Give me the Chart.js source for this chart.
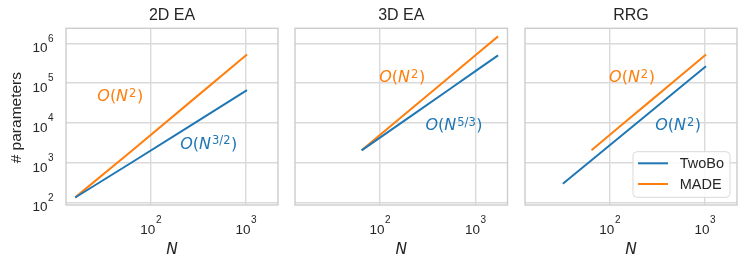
<!DOCTYPE html>
<html>
<head>
<meta charset="utf-8">
<script src="https://cdn.jsdelivr.net/npm/chart.js@4.4.1/dist/chart.umd.min.js"></script>
<style>
  html, body { margin: 0; padding: 0; background: #fff; }
  #wrap { position: relative; width: 747px; height: 267px; }
  #wrap canvas { position: absolute; left: 0; top: 0; }
</style>
</head>
<body>
<div id="wrap">
  <canvas id="p1" width="747" height="267"></canvas>
  <canvas id="p2" width="747" height="267"></canvas>
  <canvas id="p3" width="747" height="267"></canvas>
</div>
<script>
// panels and series
const panelTitles = ['2D EA', '3D EA', 'RRG'];
const seriesNames = ['TwoBo', 'MADE'];
const seriesColors = ['#1f77b4', '#ff7f0e'];

// 2D EA
const n2D = [16, 64, 256, 1024];
const twobo2D = [135, 1050, 8300, 66500];
const made2D = [136, 2080, 32896, 524800];

// 3D EA
const n3D = [64, 216, 512, 1000, 1728];
const twobo3D = [2048, 15552, 65536, 200000, 497664];
const made3D = [2080, 23436, 131328, 500500, 1493856];

// RRG
const nRRGTwoBo = [32, 128, 512, 1024];
const twoboRRG = [300, 4500, 68000, 265000];
const nRRGMade = [64, 128, 256, 512, 1024];
const madeRRG = [2080, 8256, 32896, 131328, 524800];

// axes
const xTicks = [100, 1000];
const yTicks = [100, 1000, 10000, 100000, 1000000];
const xLimits = [12.8, 2170];
const yLimits = [87.5, 2380000];

// scaling labels: [series index, N, params, exponent]
const notes2D = [[1, 27.3, 34700, '2'], [0, 203, 2290, '3/2']];
const notes3D = [[1, 98, 107000, '2'], [0, 299, 6490, '5/3']];
const notesRRG = [[1, 98, 107000, '2'], [0, 299, 6490, '2']];

const pts = (xs, ys) => xs.map((x, i) => ({ x: x, y: ys[i] }));
const SANS = '"Liberation Sans", Arial, sans-serif';

function drawPow(ctx, x, base, v, align) {
  const e = String(Math.round(Math.log10(v)));
  ctx.font = '13.5px ' + SANS;
  const w1 = ctx.measureText('10').width;
  ctx.font = '10px ' + SANS;
  const w2 = ctx.measureText(e).width;
  const total = w1 + w2 + 0.5;
  const left = align === 'center' ? x - total / 2 : x - total;
  ctx.textAlign = 'left';
  ctx.textBaseline = 'alphabetic';
  ctx.font = '13.5px ' + SANS;
  ctx.fillText('10', left, base);
  ctx.font = '10px ' + SANS;
  ctx.fillText(e, left + w1 + 0.5, base - 10.5);
}

function drawMath(ctx, x, y, exp, color) {
  const size = 16;
  const parts = [
    { t: 'O', it: true }, { t: '(' }, { t: 'N', it: true, after: 1 },
    { t: exp, sup: true, after: 0.5 }, { t: ')' }
  ];
  ctx.fillStyle = color;
  ctx.textAlign = 'left';
  ctx.textBaseline = 'alphabetic';
  let cx = x;
  parts.forEach(p => {
    const s = p.sup ? size * 0.72 : size;
    ctx.font = (p.it ? 'oblique ' : '') + s + 'px "DejaVu Sans", sans-serif';
    ctx.fillText(p.t, cx, p.sup ? y - size * 0.27 : y);
    cx += ctx.measureText(p.t).width + (p.after || 0);
  });
}

const decor = {
  id: 'decor',
  afterDraw(chart, args, o) {
    const ctx = chart.ctx, a = chart.chartArea;
    const xs = chart.scales.x, ys = chart.scales.y;
    ctx.save();
    ctx.strokeStyle = '#cccccc';
    ctx.lineWidth = 1.4;
    ctx.strokeRect(a.left, a.top, a.right - a.left, a.bottom - a.top);

    ctx.fillStyle = '#262626';
    xs.ticks.forEach(t => drawPow(ctx, xs.getPixelForValue(t.value), a.bottom + 28.5, t.value, 'center'));
    if (o.yAxis) {
      ys.ticks.forEach(t => drawPow(ctx, a.left - 12.5, ys.getPixelForValue(t.value) + 8.8, t.value, 'right'));
      ctx.save();
      ctx.translate(17, (a.top + a.bottom) / 2 + 1);
      ctx.rotate(-Math.PI / 2);
      ctx.font = '15.5px ' + SANS;
      ctx.textAlign = 'center';
      ctx.textBaseline = 'middle';
      ctx.fillText('# parameters', 0, 0);
      ctx.restore();
    }

    const cx = (a.left + a.right) / 2;
    ctx.textAlign = 'center';
    ctx.textBaseline = 'alphabetic';
    ctx.font = '16px ' + SANS;
    ctx.fillText(o.title, cx, a.top - 8.3);
    ctx.font = 'oblique 15.5px "DejaVu Sans", sans-serif';
    ctx.fillText('N', cx, a.bottom + 49);

    o.notes.forEach(n => {
      drawMath(ctx, xs.getPixelForValue(n[1]), ys.getPixelForValue(n[2]), n[3], seriesColors[n[0]]);
    });

    if (o.legend) {
      const w = 97, h = 45.6;
      const bx = a.right - 7 - w, by = a.bottom - 7.7 - h;
      ctx.beginPath();
      ctx.roundRect(bx, by, w, h, 4);
      ctx.fillStyle = 'rgba(255,255,255,0.85)';
      ctx.fill();
      ctx.strokeStyle = '#d9d9d9';
      ctx.lineWidth = 1;
      ctx.stroke();
      chart.data.datasets.forEach((ds, i) => {
        const ly = by + 11.6 + i * 20.7;
        ctx.strokeStyle = ds.borderColor;
        ctx.lineWidth = 2;
        ctx.beginPath();
        ctx.moveTo(bx + 5, ly);
        ctx.lineTo(bx + 35, ly);
        ctx.stroke();
        ctx.fillStyle = '#262626';
        ctx.font = '14.5px ' + SANS;
        ctx.textAlign = 'left';
        ctx.textBaseline = 'middle';
        ctx.fillText(ds.label, bx + 46.7, ly + 0.5);
      });
    }
    ctx.restore();
  }
};

function logAxis(limits, ticks) {
  return {
    type: 'logarithmic',
    min: limits[0],
    max: limits[1],
    afterBuildTicks: s => { s.ticks = ticks.map(v => ({ value: v })); },
    ticks: { display: false },
    border: { display: false },
    grid: { color: '#dadada', lineWidth: 1.4, drawTicks: false }
  };
}

function makePanel(id, box, title, nTwo, yTwo, nMade, yMade, notes, extra) {
  new Chart(document.getElementById(id).getContext('2d'), {
    type: 'line',
    data: {
      datasets: [
        { label: seriesNames[0], data: pts(nTwo, yTwo), borderColor: seriesColors[0], borderWidth: 2, pointRadius: 0, tension: 0 },
        { label: seriesNames[1], data: pts(nMade, yMade), borderColor: seriesColors[1], borderWidth: 2, pointRadius: 0, tension: 0 }
      ]
    },
    options: {
      responsive: false,
      animation: false,
      devicePixelRatio: 1,
      layout: { padding: { left: box[0], right: 747 - box[1], top: 28.3, bottom: 62 } },
      scales: { x: logAxis(xLimits, xTicks), y: logAxis(yLimits, yTicks) },
      plugins: {
        legend: { display: false },
        tooltip: { enabled: false },
        decor: Object.assign({ title: title, notes: notes }, extra)
      }
    },
    plugins: [decor]
  });
}

makePanel('p1', [66, 278], panelTitles[0], n2D, twobo2D, n2D, made2D, notes2D, { yAxis: true });
makePanel('p2', [295, 507.5], panelTitles[1], n3D, twobo3D, n3D, made3D, notes3D, {});
makePanel('p3', [525, 737], panelTitles[2], nRRGTwoBo, twoboRRG, nRRGMade, madeRRG, notesRRG, { legend: true });
</script>
</body>
</html>
